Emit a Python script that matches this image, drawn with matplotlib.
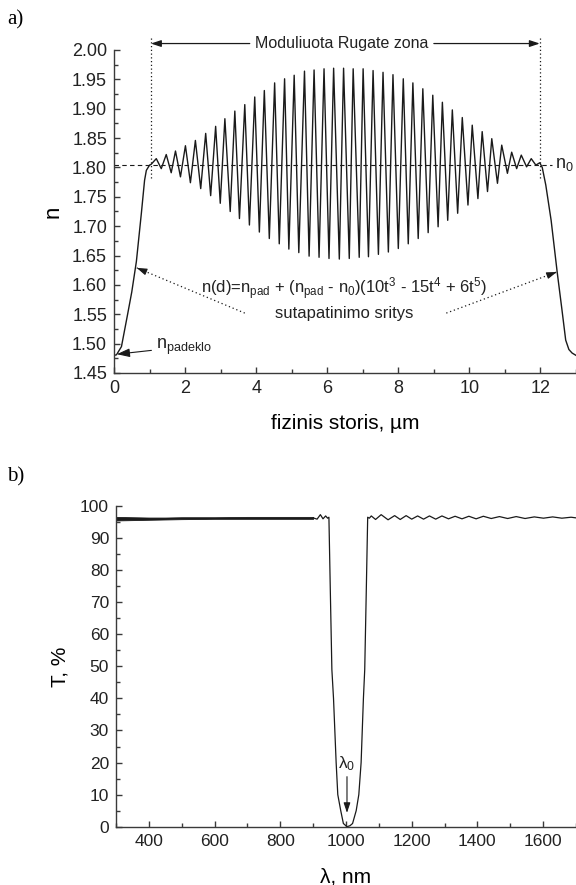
import numpy as np
import matplotlib
matplotlib.use('Agg')
import matplotlib.pyplot as plt
from matplotlib.ticker import MultipleLocator, FormatStrFormatter

plt.rcParams['font.family'] = ['Liberation Sans', 'DejaVu Sans']
plt.rcParams['mathtext.fontset'] = 'custom'
plt.rcParams['mathtext.rm'] = 'Liberation Sans'
plt.rcParams['mathtext.default'] = 'regular'

# --- a) refractive index profile, n vs physical thickness (um) ---
# matching zone at the substrate side
rise_x = [0.0, 0.07, 0.21, 0.38, 0.50, 0.63, 0.77, 0.86, 0.91, 1.00, 1.04]
rise_n = [1.480, 1.481, 1.495, 1.549, 1.588, 1.640, 1.722, 1.778, 1.795, 1.804, 1.805]

# rugate zone: maxima and minima of the modulation
peak_x = [1.19, 1.47, 1.73, 2.01, 2.29, 2.58, 2.86, 3.12, 3.40, 3.68, 3.96, 4.23, 4.52,
          4.80, 5.07, 5.36, 5.63, 5.91, 6.18, 6.46, 6.73, 7.01, 7.29, 7.57, 7.85, 8.14,
          8.41, 8.69, 8.97, 9.24, 9.52, 9.80, 10.08, 10.36, 10.63, 10.91, 11.19, 11.46,
          11.74, 11.98]
peak_n = [1.815, 1.822, 1.828, 1.837, 1.846, 1.858, 1.870, 1.883, 1.896, 1.907, 1.920,
          1.931, 1.944, 1.951, 1.957, 1.964, 1.966, 1.968, 1.969, 1.969, 1.968, 1.968,
          1.965, 1.962, 1.958, 1.951, 1.944, 1.934, 1.923, 1.911, 1.898, 1.885, 1.872,
          1.861, 1.849, 1.838, 1.826, 1.821, 1.815, 1.808]
trough_x = [1.33, 1.61, 1.87, 2.15, 2.44, 2.72, 2.99, 3.27, 3.53, 3.81, 4.09, 4.37, 4.65,
            4.92, 5.20, 5.49, 5.77, 6.05, 6.34, 6.62, 6.90, 7.16, 7.44, 7.72, 8.00, 8.28,
            8.56, 8.84, 9.12, 9.39, 9.67, 9.96, 10.24, 10.51, 10.79, 11.07, 11.33, 11.61,
            11.87]
trough_n = [1.798, 1.791, 1.784, 1.774, 1.764, 1.752, 1.739, 1.725, 1.713, 1.702, 1.690,
            1.679, 1.670, 1.661, 1.655, 1.649, 1.647, 1.645, 1.644, 1.645, 1.647, 1.648,
            1.652, 1.656, 1.662, 1.670, 1.679, 1.689, 1.699, 1.710, 1.722, 1.736, 1.747,
            1.759, 1.773, 1.790, 1.798, 1.801, 1.804]

# matching zone at the outer side
fall_x = [12.05, 12.15, 12.30, 12.47, 12.60, 12.71, 12.80, 12.89, 13.00]
fall_n = [1.800, 1.770, 1.710, 1.622, 1.560, 1.506, 1.490, 1.484, 1.480]

n0 = 1.805

# --- b) transmission spectrum, T (%) vs wavelength (nm) ---
# dense fast ripple below the stop band, given as its upper / lower envelope
band_wl = [300, 350, 400, 450, 500, 600, 700, 800, 900]
band_hi = [96.6, 96.5, 96.4, 96.4, 96.5, 96.5, 96.6, 96.6, 96.6]
band_lo = [95.5, 95.6, 95.7, 95.8, 95.9, 96.0, 96.0, 96.0, 96.0]

# stop band around lambda0 and the ripples next to it
dip_wl = [900, 912, 922, 930, 938, 944, 948, 952, 957, 962, 970, 975, 984, 992, 1003,
          1012, 1020, 1031, 1039, 1046, 1053, 1057, 1062, 1066, 1071]
dip_t = [96.3, 95.9, 97.3, 96.0, 96.9, 96.2, 96.5, 75.0, 49.0, 40.0, 20.0, 10.0, 5.0,
         1.0, 0.0, 0.3, 1.0, 5.0, 10.0, 20.0, 40.0, 49.0, 75.0, 96.5, 96.2]
ripple_peak_wl = [1077, 1107, 1148, 1183, 1218, 1254, 1292, 1332, 1374, 1418, 1467, 1518,
                  1573, 1629, 1685]
ripple_peak_t = [96.9, 97.3, 97.0, 97.0, 96.9, 96.9, 96.9, 96.8, 96.8, 96.8, 96.7, 96.7,
                 96.6, 96.6, 96.5]
ripple_low_wl = [1090, 1128, 1165, 1200, 1236, 1273, 1312, 1353, 1396, 1442, 1492, 1545,
                 1601, 1657, 1700]
ripple_low_t = [95.8, 95.7, 95.8, 95.9, 95.9, 95.9, 96.0, 96.0, 96.0, 96.1, 96.1, 96.1,
                96.2, 96.2, 96.3]

LINE = '#1a1a1a'
AXC = '#3a3a3a'


def style_axes(ax, lsize):
    for s in ['top', 'right']:
        ax.spines[s].set_visible(False)
    for s in ['left', 'bottom']:
        ax.spines[s].set_color(AXC)
        ax.spines[s].set_linewidth(1.0)
    ax.tick_params(which='both', direction='in', colors=AXC, labelcolor='#222222',
                   labelsize=lsize, width=1.0)
    ax.tick_params(which='major', length=4.5, pad=5)
    ax.tick_params(which='minor', length=2.8)


fig = plt.figure(figsize=(5.76, 8.85), dpi=100, facecolor='white')
W, H = 576.0, 885.0

# ---------------- panel a ----------------
ax1 = fig.add_axes([114 / W, 1 - 373 / H, (W - 114) / W, (373 - 50) / H])
style_axes(ax1, 13)

pts = sorted(zip(rise_x + peak_x + trough_x + fall_x, rise_n + peak_n + trough_n + fall_n))
prof_x = [p[0] for p in pts]
prof_n = [p[1] for p in pts]
ax1.plot(prof_x, prof_n, color=LINE, lw=1.0, solid_joinstyle='round')

ax1.set_xlim(0, 13)
ax1.set_ylim(1.45, 2.00)
ax1.xaxis.set_major_locator(MultipleLocator(2))
ax1.xaxis.set_minor_locator(MultipleLocator(1))
ax1.yaxis.set_major_locator(MultipleLocator(0.05))
ax1.yaxis.set_minor_locator(MultipleLocator(0.025))
ax1.yaxis.set_major_formatter(FormatStrFormatter('%.2f'))

ax1.set_xlabel('fizinis storis, \u00b5m', fontsize=15, va='center')
ax1.xaxis.set_label_coords(0.5, -0.155)
ax1.set_ylabel('n', fontsize=16, va='center')
ax1.yaxis.set_label_coords(-0.132, 0.5)

# n0 level and zone borders
ax1.plot([0, 12.33], [n0, n0], color=LINE, lw=0.8, ls=(0, (4, 3)))
ax1.text(12.42, n0, 'n$_0$', fontsize=13, va='center', ha='left', color='#222222')
for xb in [1.04, 11.98]:
    ax1.plot([xb, xb], [1.782, 2.024], color=LINE, lw=0.9, ls=(0, (1, 2)), clip_on=False)

arrow_kw = dict(arrowstyle='-|>,head_length=0.6,head_width=0.2', color=LINE, lw=0.9,
                shrinkA=0, shrinkB=0)
ax1.annotate('', xy=(1.04, 2.011), xytext=(3.82, 2.011), arrowprops=arrow_kw,
             annotation_clip=False)
ax1.annotate('', xy=(11.98, 2.011), xytext=(9.0, 2.011), arrowprops=arrow_kw,
             annotation_clip=False)
ax1.text(6.42, 2.011, 'Moduliuota Rugate zona', fontsize=11.5, ha='center', va='center',
         color='#222222', clip_on=False)

# substrate label
ax1.annotate('n$_{padeklo}$', xy=(0.08, 1.482), xytext=(1.17, 1.491), fontsize=13,
             va='baseline', ha='left', color='#222222',
             arrowprops=dict(arrowstyle='-|>,head_length=0.6,head_width=0.2', color=LINE,
                             lw=0.8, shrinkA=1, shrinkB=0))

# matching zone formula
ax1.text(6.48, 1.585,
         'n(d)=n$_{pad}$ + (n$_{pad}$ - n$_0$)(10t$^3$ - 15t$^4$ + 6t$^5$)',
         fontsize=12, ha='center', va='baseline', color='#222222')
ax1.text(6.48, 1.543, 'sutapatinimo sritys', fontsize=12, ha='center', va='baseline',
         color='#222222')
for tail, head in [((3.68, 1.552), (0.64, 1.629)), ((9.35, 1.552), (12.46, 1.622))]:
    ax1.plot([tail[0], head[0]], [tail[1], head[1]], color=LINE, lw=0.9, ls=(0, (1, 2.2)))
    ax1.annotate('', xy=head,
                 xytext=(head[0] + 0.02 * (tail[0] - head[0]), head[1] + 0.02 * (tail[1] - head[1])),
                 arrowprops=dict(arrowstyle='-|>,head_length=0.6,head_width=0.2', color=LINE,
                                 lw=0.8, shrinkA=0, shrinkB=0))

# ---------------- panel b ----------------
ax2 = fig.add_axes([116 / W, 1 - 826.7 / H, (W - 116) / W, (826.7 - 506) / H])
style_axes(ax2, 12.5)

ax2.fill_between(band_wl, band_lo, band_hi, color=LINE, lw=0.6)
spec = sorted(zip(dip_wl + ripple_peak_wl + ripple_low_wl, dip_t + ripple_peak_t + ripple_low_t))
ax2.plot([p[0] for p in spec], [p[1] for p in spec], color=LINE, lw=0.9,
         solid_joinstyle='round')

ax2.set_xlim(300, 1700)
ax2.set_ylim(0, 100)
ax2.xaxis.set_major_locator(MultipleLocator(200))
ax2.xaxis.set_minor_locator(MultipleLocator(100))
ax2.yaxis.set_major_locator(MultipleLocator(10))
ax2.yaxis.set_minor_locator(MultipleLocator(5))

ax2.set_xlabel('\u03bb, nm', fontsize=15, va='center')
ax2.xaxis.set_label_coords(0.5, -0.157)
ax2.set_ylabel('T, %', fontsize=15, va='center')
ax2.yaxis.set_label_coords(-0.122, 0.5)

ax2.annotate('', xy=(1003, 4.3), xytext=(1003, 15.6),
             arrowprops=dict(arrowstyle='-|>,head_length=0.6,head_width=0.2', color=LINE,
                             lw=0.8, shrinkA=0, shrinkB=0))
ax2.text(1003, 19.6, '\u03bb$_0$', fontsize=12.5, ha='center', va='center', color='#222222')

# panel letters
fig.text(7 / W, 1 - 20 / H, 'a)', fontsize=15, family='Liberation Serif', va='center')
fig.text(7 / W, 1 - 477 / H, 'b)', fontsize=15, family='Liberation Serif', va='center')

fig.savefig('out.png', dpi=100, facecolor='white')
